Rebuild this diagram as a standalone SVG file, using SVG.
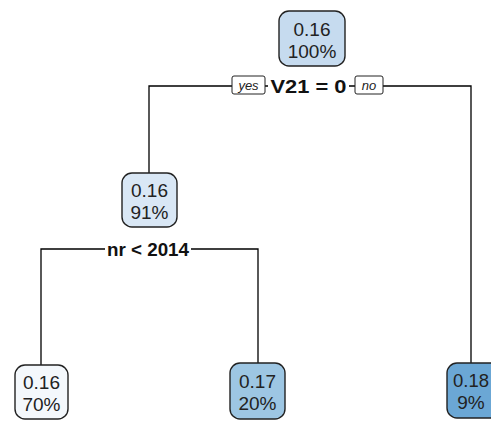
<svg xmlns="http://www.w3.org/2000/svg" width="491" height="422" viewBox="0 0 491 422">
<style>
.edge{fill:none;stroke:#000;stroke-width:1.3}
.box{stroke:#222;stroke-width:1.4}
.val{font-family:"Liberation Sans",Arial,sans-serif;font-size:19px;fill:#222;text-anchor:middle}
.split{font-family:"Liberation Sans",Arial,sans-serif;font-size:19px;font-weight:bold;fill:#111;text-anchor:middle}
.yn{font-family:"Liberation Sans",Arial,sans-serif;font-size:13px;font-style:italic;fill:#222;text-anchor:middle}
.ynbox{fill:#fff;stroke:#222;stroke-width:1}
.lblbg{fill:#fff}
</style>
<rect width="491" height="422" fill="#fff"/>
<g id="connectors">
<path class="edge" d="M149,173 V86 H471 V363"/>
<path class="edge" d="M41,365 V249 H258 V363"/>
</g>
<g id="split1">
<rect class="lblbg" x="268" y="76" width="81" height="20"/>
<text class="split" x="308.5" y="93" textLength="76" lengthAdjust="spacingAndGlyphs">V21 = 0</text>
<rect class="ynbox" x="232" y="76" width="33" height="18" rx="2"/>
<text class="yn" x="248.5" y="89.5">yes</text>
<rect class="ynbox" x="355" y="76" width="28" height="18" rx="2"/>
<text class="yn" x="369" y="89.5">no</text>
</g>
<g id="split2">
<rect class="lblbg" x="105" y="239" width="86" height="20"/>
<text class="split" x="148" y="256" textLength="82" lengthAdjust="spacingAndGlyphs">nr &lt; 2014</text>
</g>
<g id="n1">
<rect class="box" x="279" y="11" width="66" height="55" rx="10" fill="#c6dbef"/>
<text class="val" x="312" y="36">0.16</text>
<text class="val" x="312" y="58">100%</text>
</g>
<g id="n2">
<rect class="box" x="122" y="173" width="55" height="54" rx="10" fill="#d9e7f5"/>
<text class="val" x="149.5" y="197">0.16</text>
<text class="val" x="149.5" y="219">91%</text>
</g>
<g id="n4">
<rect class="box" x="15" y="365" width="53" height="54" rx="10" fill="#f4f8fc"/>
<text class="val" x="41.5" y="389">0.16</text>
<text class="val" x="41.5" y="411">70%</text>
</g>
<g id="n5">
<rect class="box" x="230" y="363" width="55" height="56" rx="10" fill="#9dc6e3"/>
<text class="val" x="257.5" y="388">0.17</text>
<text class="val" x="257.5" y="410">20%</text>
</g>
<g id="n3">
<rect class="box" x="447" y="363" width="55" height="55" rx="10" fill="#6ba7d5"/>
<text class="val" x="471" y="387" textLength="36" lengthAdjust="spacingAndGlyphs">0.18</text>
<text class="val" x="471" y="409">9%</text>
</g>
</svg>
